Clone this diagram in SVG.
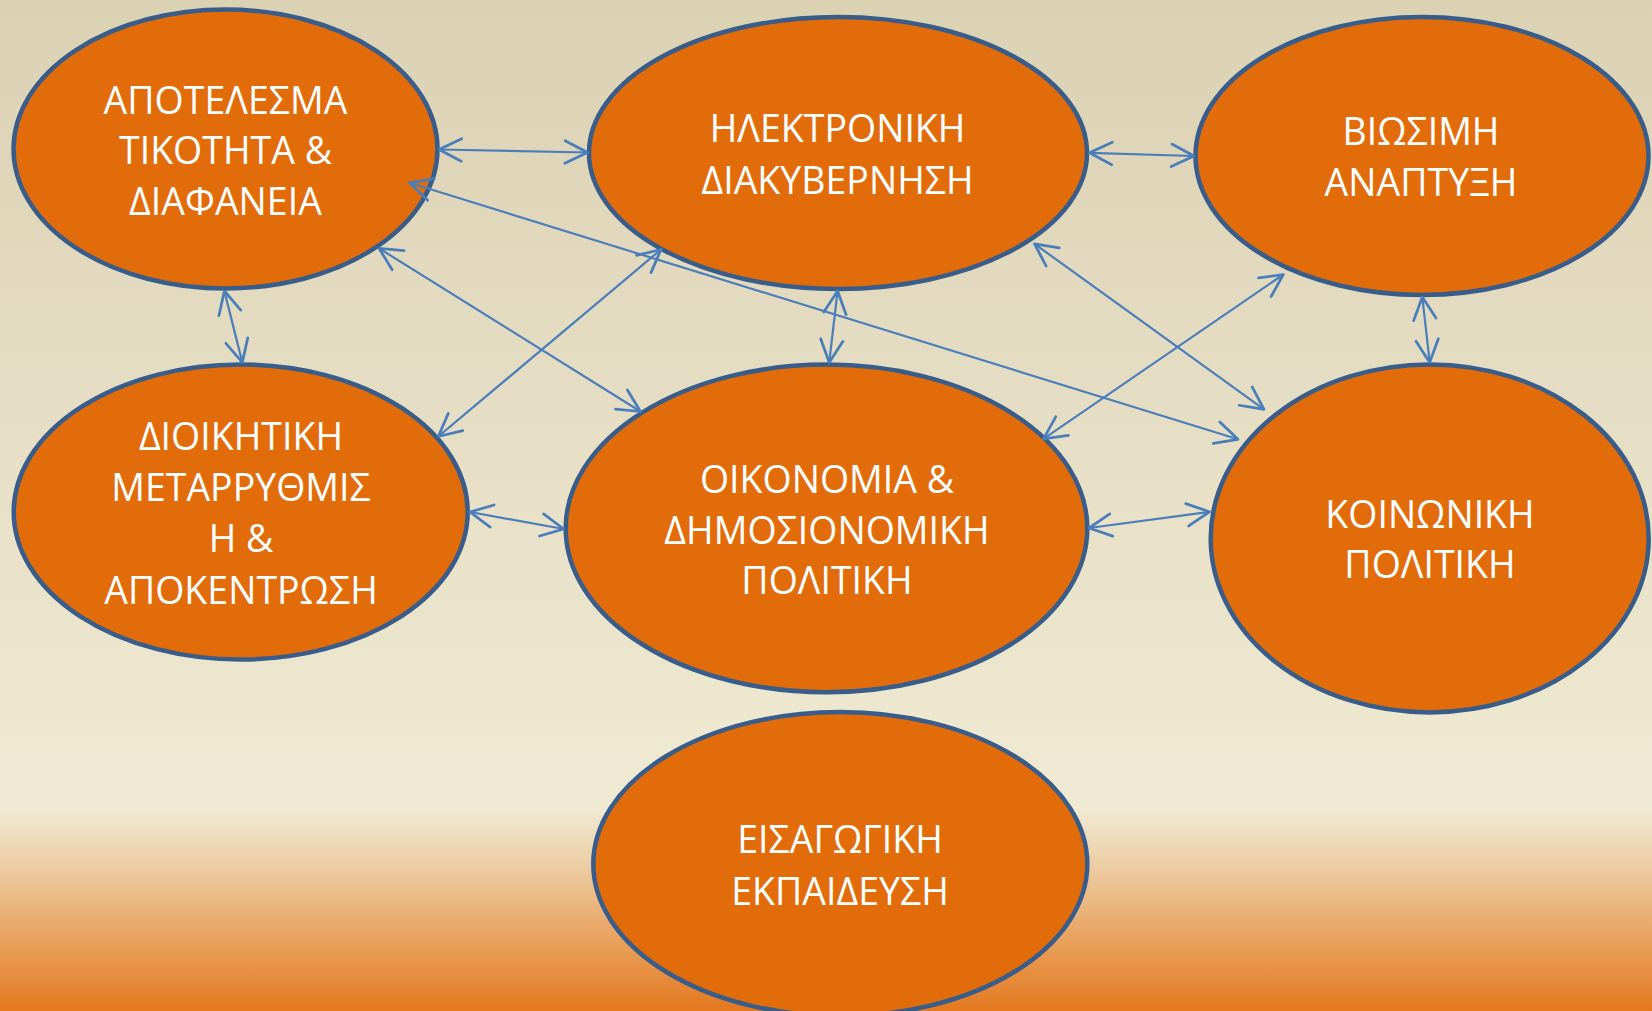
<svg xmlns="http://www.w3.org/2000/svg" width="1652" height="1011" viewBox="0 0 1652 1011">
<defs>
<linearGradient id="bg" x1="0" y1="0" x2="0" y2="1">
<stop offset="0" stop-color="#DBD1B3"/>
<stop offset="0.80" stop-color="#F0EAD4"/>
<stop offset="0.86" stop-color="#ECCBA0"/>
<stop offset="0.92" stop-color="#E9A766"/>
<stop offset="1" stop-color="#E4781F"/>
</linearGradient>
<marker id="arr" markerUnits="userSpaceOnUse" markerWidth="30" markerHeight="30" viewBox="-20 -12 24 24" refX="0" refY="0" orient="auto-start-reverse" overflow="visible">
<path d="M-18,-9 L0,0 L-18,9" fill="none" stroke="#4A7EBB" stroke-width="2.2" stroke-linecap="round" stroke-linejoin="round"/>
</marker>
<style>
.n{fill:#E36C0A;stroke:#385D8A;stroke-width:4.5}
.t{font-family:"Open Sans","Noto Sans","DejaVu Sans",sans-serif;font-size:37.5px;fill:#FFFFFF;text-anchor:middle}
.c{stroke:#4A7EBB;stroke-width:2.2;fill:none;marker-start:url(#arr);marker-end:url(#arr)}
</style>
</defs>
<rect x="0" y="0" width="1652" height="1011" fill="url(#bg)"/>
<g id="n1"><ellipse class="n" cx="225.5" cy="149" rx="212" ry="139.5"/>
<text class="t" x="225.5" y="113.5">ΑΠΟΤΕΛΕΣΜΑ</text><text class="t" x="225.5" y="164.1">ΤΙΚΟΤΗΤΑ &amp;</text><text class="t" x="225.5" y="214.5">ΔΙΑΦΑΝΕΙΑ</text></g>
<g id="n2"><ellipse class="n" cx="838" cy="153" rx="249" ry="136"/>
<text class="t" x="837.6" y="141.9">ΗΛΕΚΤΡΟΝΙΚΗ</text><text class="t" x="837.6" y="193.5">ΔΙΑΚΥΒΕΡΝΗΣΗ</text></g>
<g id="n3"><ellipse class="n" cx="1422" cy="156" rx="226.5" ry="139"/>
<text class="t" x="1421" y="145.1">ΒΙΩΣΙΜΗ</text><text class="t" x="1421" y="195.7">ΑΝΑΠΤΥΞΗ</text></g>
<g id="n4"><ellipse class="n" cx="240.7" cy="512" rx="227" ry="147.5"/>
<text class="t" x="241" y="449.5">ΔΙΟΙΚΗΤΙΚΗ</text><text class="t" x="241" y="501.2">ΜΕΤΑΡΡΥΘΜΙΣ</text><text class="t" x="241" y="551.8">Η &amp;</text><text class="t" x="241" y="603.5">ΑΠΟΚΕΝΤΡΩΣΗ</text></g>
<g id="n5"><ellipse class="n" cx="826.5" cy="528.4" rx="260.8" ry="163.8"/>
<text class="t" x="827" y="492.8">ΟΙΚΟΝΟΜΙΑ &amp;</text><text class="t" x="827" y="543.5">ΔΗΜΟΣΙΟΝΟΜΙΚΗ</text><text class="t" x="827" y="593.9">ΠΟΛΙΤΙΚΗ</text></g>
<g id="n6"><ellipse class="n" cx="1429.7" cy="538.4" rx="219" ry="174"/>
<text class="t" x="1430" y="527.5">ΚΟΙΝΩΝΙΚΗ</text><text class="t" x="1430" y="578.1">ΠΟΛΙΤΙΚΗ</text></g>
<g id="n7"><ellipse class="n" cx="840.3" cy="864" rx="247" ry="152"/>
<text class="t" x="840" y="853.1">ΕΙΣΑΓΩΓΙΚΗ</text><text class="t" x="840" y="904.7">ΕΚΠΑΙΔΕΥΣΗ</text></g>
<g id="connectors">
<line class="c" x1="439" y1="149.5" x2="587.5" y2="152.5"/>
<line class="c" x1="1089.5" y1="152.8" x2="1194" y2="156"/>
<line class="c" x1="224.4" y1="291" x2="242.3" y2="362.4"/>
<line class="c" x1="837.6" y1="291" x2="829.2" y2="362.4"/>
<line class="c" x1="1422.3" y1="297" x2="1429.7" y2="362.4"/>
<line class="c" x1="470" y1="512" x2="563.7" y2="529"/>
<line class="c" x1="1089" y1="528" x2="1209.5" y2="511.8"/>
<line class="c" x1="379" y1="248.3" x2="640.5" y2="411.5"/>
<line class="c" x1="438.3" y1="436.5" x2="661" y2="249.5"/>
<line class="c" x1="409.5" y1="182.8" x2="1238" y2="439.3"/>
<line class="c" x1="1034.5" y1="243.8" x2="1264" y2="409.3"/>
<line class="c" x1="1043.5" y1="438.8" x2="1283.3" y2="274.5"/>
</g>
</svg>
